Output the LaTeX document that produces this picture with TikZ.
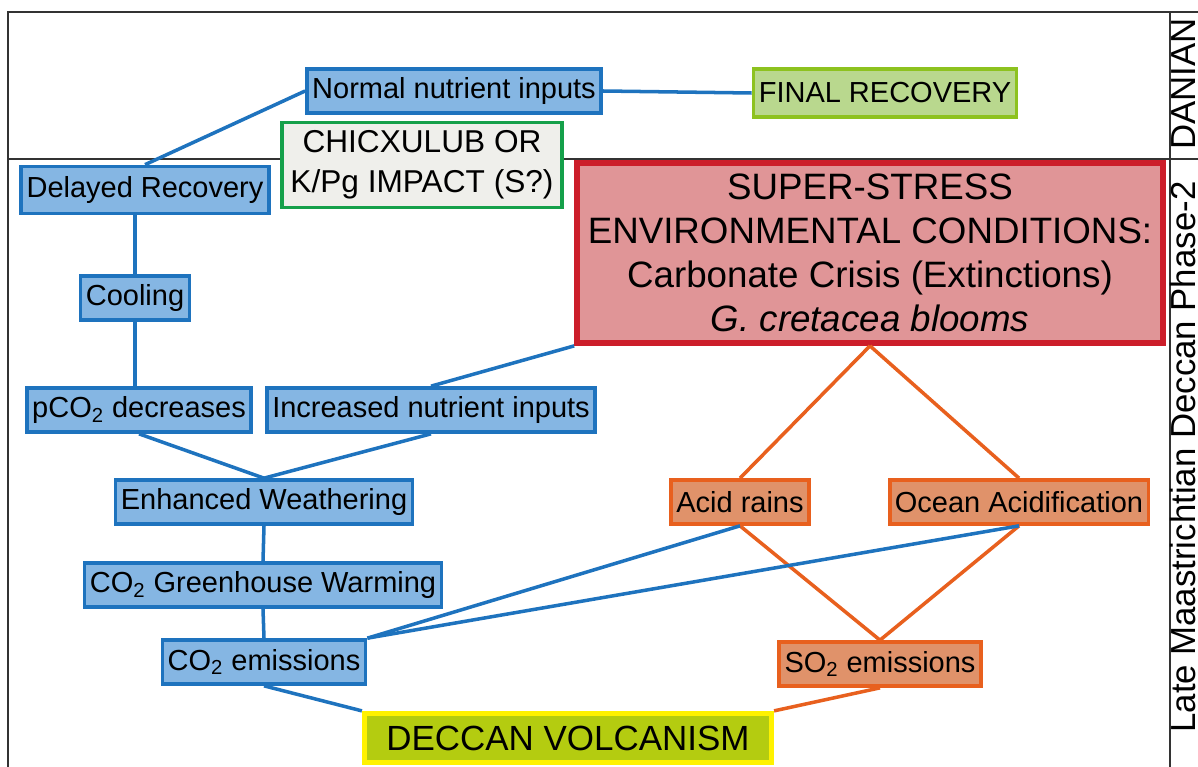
\documentclass[tikz,border=0pt]{standalone}
\usepackage{fontspec}
\setmainfont{Liberation Sans}
\usetikzlibrary{positioning}

\definecolor{lineblue}{HTML}{1E73BE}
\definecolor{boxblue}{HTML}{85B6E3}
\definecolor{lineorange}{HTML}{E8601E}
\definecolor{boxorange}{HTML}{E0926A}
\definecolor{linered}{HTML}{CC1E2A}
\definecolor{boxred}{HTML}{E09597}
\definecolor{linegreen}{HTML}{15A04A}
\definecolor{boxgray}{HTML}{EFEFEB}
\definecolor{linelime}{HTML}{8DC21F}
\definecolor{boxlime}{HTML}{B9D88E}
\definecolor{lineyellow}{HTML}{FFF200}
\definecolor{boxolive}{HTML}{B4CC10}
\definecolor{framegray}{HTML}{333333}

\begin{document}
\begin{tikzpicture}[x=0.02cm, y=-0.02cm,
        box/.style = {draw, line width=2.1pt, inner xsep=3pt, inner ysep=0pt,
                      minimum height=0.88cm, font=\fontsize{16.5}{20}\selectfont},
        bluebox/.style = {box, draw=lineblue, fill=boxblue},
        orangebox/.style = {box, draw=lineorange, fill=boxorange},
        blueline/.style = {draw=lineblue, line width=2pt},
        orangeline/.style = {draw=lineorange, line width=2pt},
        sidelabel/.style = {rotate=90, inner sep=0pt, font=\fontsize{19.8}{24}\selectfont}]
    \useasboundingbox (0,0) rectangle (1198,767);

    % frame and time columns
    \draw [framegray, line width=1.1pt] (8,767) -- (8,12) -- (1198,12);
    \draw [framegray, line width=1.1pt] (8,159) -- (1198,159);
    \draw [framegray, line width=1.1pt] (1170,12) -- (1170,767);
    \node (danian) [sidelabel, anchor=base] at (1195,84) {DANIAN};
    \node (phase) [sidelabel, anchor=base west] at (1195,733) {Late Maastrichtian Deccan Phase-2};

    % boxes
    \node (normal) [bluebox] at (454,91) {Normal nutrient inputs};
    \node (final) [box, draw=linelime, fill=boxlime, minimum height=0.96cm] at (885,93) {FINAL RECOVERY};
    \node (impact) [box, draw=linegreen, fill=boxgray, align=center, minimum width=5.6cm,
                    minimum height=1.7cm, font=\fontsize{18}{22.7}\selectfont] at (422,165)
                   {CHICXULUB OR\\K/Pg IMPACT (S?)};
    \node (delayed) [bluebox, minimum height=0.94cm] at (145,190) {Delayed Recovery};
    \node (stress) [box, draw=linered, fill=boxred, line width=3.3pt, align=center,
                    minimum width=11.72cm, minimum height=3.6cm,
                    font=\fontsize{20.9}{25}\selectfont] at (870,253)
                   {SUPER-STRESS\\ENVIRONMENTAL CONDITIONS:\\Carbonate Crisis (Extinctions)\\\textit{G. cretacea blooms}};
    \node (cooling) [bluebox] at (135,298) {Cooling};
    \node (pco) [bluebox] at (139,410) {pCO\textsubscript{2} decreases};
    \node (increased) [bluebox] at (431,410) {Increased nutrient inputs};
    \node (weathering) [bluebox] at (264,502) {Enhanced Weathering};
    \node (warming) [bluebox] at (263,585) {CO\textsubscript{2} Greenhouse Warming};
    \node (coem) [bluebox] at (264,662) {CO\textsubscript{2} emissions};
    \node (acid) [orangebox] at (740,502) {Acid rains};
    \node (ocean) [orangebox] at (1019,502) {Ocean Acidification};
    \node (soem) [orangebox] at (880,664) {SO\textsubscript{2} emissions};
    \node (deccan) [box, draw=lineyellow, fill=boxolive, line width=3pt,
                    minimum width=8.14cm, minimum height=0.98cm,
                    font=\fontsize{19.9}{24}\selectfont] at (568,738) {DECCAN VOLCANISM};

    % connectors
    \path [orangeline]
        (stress.south) edge (acid.north)
        (stress.south) edge (ocean.north)
        (acid.south) edge (soem.north)
        (ocean.south) edge (soem.north)
        (soem.south) edge (deccan.north east);

    \path [blueline]
        (normal.west) edge (delayed.north)
        (normal.east) edge (final.west)
        (cooling.north) edge (cooling.north |- delayed.south)
        (cooling.south) edge (cooling.south |- pco.north)
        (pco.south) edge (weathering.north)
        (increased.south) edge (weathering.north)
        (stress.south west) edge (increased.north)
        (weathering.south) edge (warming.north)
        (warming.south) edge (coem.north)
        (coem.north east) edge (acid.south)
        (coem.north east) edge (ocean.south)
        (coem.south) edge (deccan.north west);
\end{tikzpicture}
\end{document}
